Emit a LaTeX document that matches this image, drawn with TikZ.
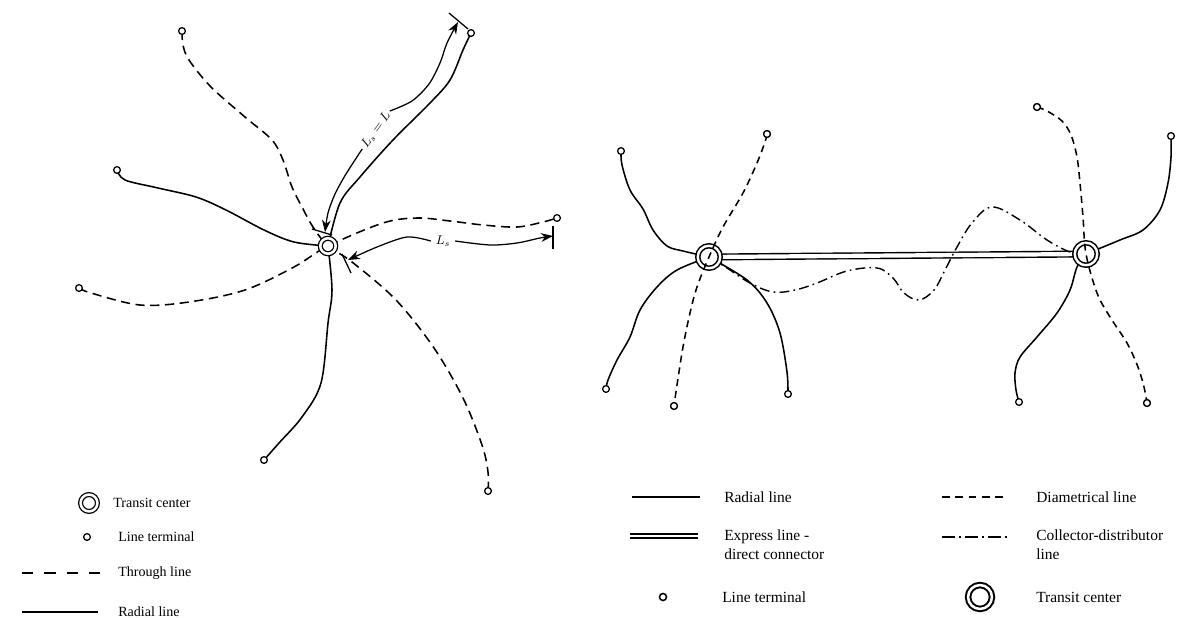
\documentclass[tikz,border=0pt]{standalone}
\usepackage{fontspec}
\setmainfont{Liberation Serif}
\usetikzlibrary{arrows.meta,positioning}
\pgfdeclarelayer{bg}
\pgfsetlayers{bg,main}
\newcommand{\keyfont}{\fontsize{11}{13.5}\selectfont}

\begin{document}
\begin{tikzpicture}[
  x=0.025cm, y=-0.025cm,
  hub/.style={circle,draw,fill=white,line width=0.9pt,double,double distance=1.8pt,
              inner sep=0pt,minimum size=11pt},
  bighub/.style={hub,line width=1.1pt,double distance=1.7pt,minimum size=16pt},
  term/.style={circle,draw,fill=white,line width=0.9pt,inner sep=0pt,minimum size=4.8pt},
  radial/.style={line width=1.1pt},
  through/.style={line width=1.1pt,dash pattern=on 6.5pt off 4pt},
  diam/.style={line width=1.1pt,dash pattern=on 5pt off 3.5pt},
  collector/.style={line width=1pt,dash pattern=on 7pt off 3pt on 1.2pt off 3pt},
  express/.style={line width=1pt,double,double distance=3pt},
  dim/.style={-{Stealth[length=3mm,width=2.2mm]},line width=0.9pt},
  tick/.style={line width=0.9pt},
  key/.style={anchor=west,inner sep=0pt,align=left}
]
\useasboundingbox (0,0) rectangle (1180,618);

\node[hub] (hub) at (328,246) {};
\node[term] (tA) at (182,31) {};
\node[term] (tB) at (471,33) {};
\node[term] (tC) at (117,170) {};
\node[term] (tD) at (557,218) {};
\node[term] (tE) at (79,288) {};
\node[term] (tF) at (264,460) {};
\node[term] (tG) at (488,491) {};

\begin{pgfonlayer}{bg}
\draw[through] plot[smooth,tension=0.55] coordinates {(tA) (183,45) (189,60) (211,87)
  (245,117) (272,140) (283,160) (292,187) (302,207) (313,227) (hub) (352,262) (396,300)
  (434,348) (463,398) (482,445) (488,472) (tG)};
\draw[through] plot[smooth,tension=0.55] coordinates {(tE) (91,293) (140,305) (189,302)
  (245,290) (294,267) (hub) (383,223) (417,218) (450,221) (483,225) (517,227) (543,222) (tD)};
\draw[radial] plot[smooth,tension=0.55] coordinates {(tC) (125,180) (158,188) (196,197)
  (226,210) (264,230) (294,242) (hub)};
\draw[radial] plot[smooth,tension=0.55] coordinates {(tB) (463,50) (450,80) (430,103)
  (393,140) (360,177) (340,203) (hub)};
\draw[radial] plot[smooth,tension=0.55] coordinates {(tF) (279,443) (302,417) (321,383)
  (328,323) (332,290) (hub)};
\end{pgfonlayer}

\node[rotate=54,font=\small,inner sep=2pt] (lenA) at (376,130) {$L_s=L$};
\coordinate (tickA1) at (449,13);
\coordinate (tickA2) at (468,29);
\coordinate (tickB1) at (312,229);
\coordinate (tickB2) at (332,235);
\draw[dim] plot[smooth] coordinates {(lenA.east) (412,101) (429,84) (440,63) (447,43) (458,22)};
\draw[dim] plot[smooth] coordinates {(lenA.west) (346,174) (335,194) (328,213) (325,232)};
\draw[tick] (tickA1) -- (tickA2);
\draw[tick] (tickB1) -- (tickB2);

\node[font=\small] (lenB) at (443,241) {$L_s$};
\coordinate (tickC1) at (553,226);
\coordinate (tickC2) at (553,249);
\coordinate (tickD1) at (342,254);
\coordinate (tickD2) at (351,273);
\draw[dim] plot[smooth] coordinates {(lenB.west) (407,237) (377,247) (348,260)};
\draw[dim] plot[smooth] coordinates {(lenB.east) (490,245) (517,243) (540,238) (553,236)};
\draw[tick] (tickC1) -- (tickC2);
\draw[tick] (tickD1) -- (tickD2);

\node[bighub] (hL) at (709,257) {};
\node[bighub] (hR) at (1086,254) {};
\node[term] (r1) at (621,151) {};
\node[term] (r2) at (767,134) {};
\node[term] (r3) at (674,406) {};
\node[term] (r4) at (606,389) {};
\node[term] (r5) at (788,394) {};
\node[term] (r6) at (1037,107) {};
\node[term] (r7) at (1147,403) {};
\node[term] (r8) at (1171,136) {};
\node[term] (r9) at (1019,402) {};

\begin{pgfonlayer}{bg}
\draw[express] (hL) -- (hR);
\draw[radial] plot[smooth,tension=0.55] coordinates {(r1) (622,165) (630,190) (643,209)
  (653,230) (667,246) (683,251) (hL)};
\draw[radial] plot[smooth,tension=0.55] coordinates {(r4) (608,380) (617,360) (630,337)
  (640,310) (657,287) (677,270) (hL)};
\draw[radial] plot[smooth,tension=0.55] coordinates {(r5) (787,372) (780,333) (767,303)
  (747,280) (hL)};
\draw[radial] plot[smooth,tension=0.55] coordinates {(r8) (1171,157) (1168,183) (1160,210)
  (1143,230) (1120,240) (hR)};
\draw[radial] plot[smooth,tension=0.55] coordinates {(r9) (1016,390) (1015,373) (1020,357)
  (1037,337) (1057,313) (1070,290) (1077,267) (hR)};
\draw[collector] plot[smooth,tension=0.6] coordinates {(hL) (727,268) (750,283) (773,292)
  (795,290) (817,283) (847,271) (877,268) (893,278) (904,293) (919,300) (934,290) (945,270)
  (957,247) (972,223) (992,207) (1020,220) (1047,240) (1070,252) (hR)};
\end{pgfonlayer}
\draw[diam] plot[smooth,tension=0.55] coordinates {(r2) (765,142) (757,163) (743,193)
  (723,227) (hL) (697,287) (690,313) (683,347) (677,385) (r3)};
\draw[diam] plot[smooth,tension=0.55] coordinates {(r6) (1047,111) (1062,121) (1071,135)
  (1077,157) (1080,183) (1083,217) (hR) (1097,293) (1110,317) (1127,343) (1138,367)
  (1144,387) (r7)};
\node[term] at (r2) {};
\node[term] at (r3) {};
\node[term] at (r6) {};
\node[term] at (r7) {};

\node[hub,minimum size=12pt] (kHub) at (89,503) {};
\node[key] (kHubTxt) at (113,503) {Transit center};
\node[term] (kTerm) at (87,537) {};
\node[key] (kTermTxt) at (118,537) {Line terminal};
\coordinate (kThrA) at (22,573);
\coordinate (kThrB) at (100,573);
\draw[line width=1.8pt,dash pattern=on 8pt off 8pt] (kThrA) -- (kThrB);
\node[key] (kThrTxt) at (118,573) {Through line};
\coordinate (kRadA) at (22,612);
\coordinate (kRadB) at (98,612);
\draw[line width=1.8pt] (kRadA) -- (kRadB);
\node[key] (kRadTxt) at (118,612) {Radial line};

\coordinate (mRadA) at (632,497);
\coordinate (mRadB) at (700,497);
\draw[radial] (mRadA) -- (mRadB);
\node[key,font=\keyfont] (mRadTxt) at (724,497) {Radial line};
\coordinate (mDiaA) at (942,497);
\coordinate (mDiaB) at (1008,497);
\draw[line width=1.1pt,dash pattern=on 5.5pt off 4pt] (mDiaA) -- (mDiaB);
\node[key,font=\keyfont] (mDiaTxt) at (1036,497) {Diametrical line};
\coordinate (mExpA) at (630,536);
\coordinate (mExpB) at (698,536);
\draw[line width=1.2pt,double,double distance=1.6pt] (mExpA) -- (mExpB);
\node[key,font=\keyfont] (mExpTxt) at (724,545) {Express line -\\direct connector};
\coordinate (mColA) at (942,537);
\coordinate (mColB) at (1008,537);
\draw[line width=1.2pt,dash pattern=on 9pt off 3pt on 1.5pt off 3pt] (mColA) -- (mColB);
\node[key,font=\keyfont] (mColTxt) at (1036,545) {Collector-distributor\\line};
\node[term,line width=1.1pt,minimum size=5pt] (mTerm) at (663,597) {};
\node[key,font=\keyfont] (mTermTxt) at (722,597) {Line terminal};
\node[hub,line width=1.4pt,double distance=1.8pt,minimum size=17pt] (mHub) at (980,597) {};
\node[key,font=\keyfont] (mHubTxt) at (1036,597) {Transit center};
\end{tikzpicture}
\end{document}
